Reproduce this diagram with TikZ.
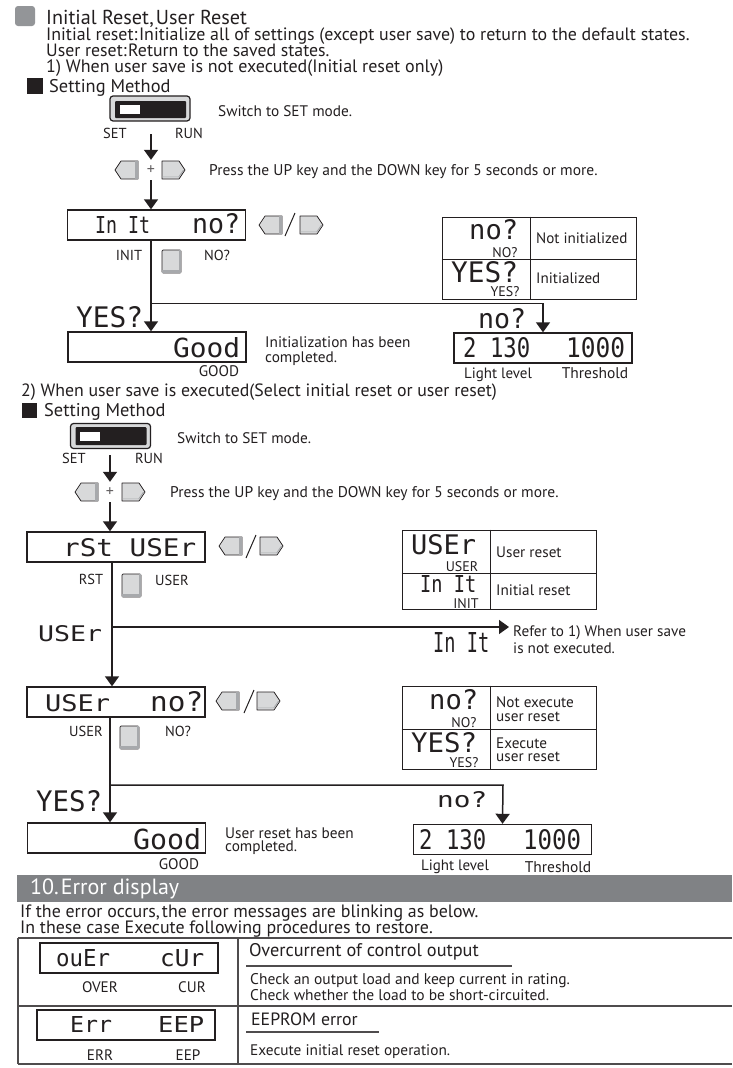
\documentclass[tikz,border=0pt]{standalone}
\usepackage{fontspec}
\usepackage{graphicx}
\setmainfont{PT Sans}
\newfontfamily\segf{DejaVu Sans Mono}
\usetikzlibrary{arrows.meta}
\definecolor{ink}{HTML}{231F20}
\definecolor{band}{HTML}{808285}
\definecolor{bull}{HTML}{939598}
\definecolor{keyf}{HTML}{D8D9DA}
\definecolor{keys}{HTML}{A7A9AC}
\tikzset{
 fz/.style={font=\fontsize{#1}{#1}\selectfont},
 tx/.style={inner sep=0pt,anchor=mid west,text=ink,yshift=-2.5pt},
 lb/.style={inner sep=0pt,anchor=mid,text=ink,yshift=-2.5pt},
 base/.style={inner sep=0pt,anchor=base west,text=ink},
 disp/.style={draw=ink,line width=1.4pt,fill=white,inner sep=0pt,minimum width=#1,minimum height=30pt},
 disp/.default=178pt,
 conn/.style={draw=ink,line width=1.5pt},
 arr/.style={conn,-{Triangle[width=14pt,length=10pt]}},
 tbl/.style={draw=ink,line width=.9pt},
 rule/.style={draw=ink!80,line width=1.1pt},
 swo/.style={draw=ink,line width=1.2pt,fill=keyf,rounded corners=3pt,inner sep=0pt,minimum width=80pt,minimum height=25pt},
 swi/.style={fill=ink,inner sep=0pt,rounded corners=1pt,minimum width=71pt,minimum height=17pt},
 swk/.style={fill=white,inner sep=0pt,minimum width=20pt,minimum height=9pt},
 plus/.style={inner sep=0pt,anchor=center,fz=16,text=ink!70,minimum height=20pt},
}
\newcommand{\seg}[6]{%
 \pgfmathsetmacro{\segw}{#3-#2}\pgfmathsetmacro{\segh}{#5-#4}%
 \node[inner sep=0pt,anchor=south west,text=ink] (#1) at (#2,#5) {\resizebox{\segw pt}{\segh pt}{\segf #6}};}
\newcommand{\keyL}[3]{% name, x0, y0
 \begin{scope}[shift={(#2,#3)}]
 \draw[ink,line width=.7pt,fill=keyf,line join=round] (0,9)--(6,0)--(23,0)--(23,18)--(6,18)--cycle;
 \fill[keys] (20,.4)--(22.6,.4)--(22.6,17.6)--(20,17.6)--cycle;
 \coordinate (#1) at (11.5,9);
 \end{scope}}
\newcommand{\keyR}[3]{%
 \begin{scope}[shift={(#2,#3)}]
 \draw[ink,line width=.7pt,fill=keyf,line join=round] (0,0)--(17,0)--(23,9)--(17,18)--(0,18)--cycle;
 \fill[keys] (.4,16)--(17,16)--(22.4,9)--(21,9)--(16.5,15.5)--(.4,15.5)--cycle;
 \coordinate (#1) at (11.5,9);
 \end{scope}}
\newcommand{\btn}[3]{%
 \begin{scope}[shift={(#2,#3)}]
 \draw[ink,line width=.7pt,fill=keyf,rounded corners=1pt] (0,0) rectangle (19,23);
 \fill[keys] (.4,20)--(18.6,20)--(18.6,22.6)--(.4,22.6)--cycle;
 \fill[keys] (17,.4) rectangle (18.6,22);
 \coordinate (#1) at (9.5,11.5);
 \end{scope}}
\begin{document}
\begin{tikzpicture}[x=1pt,y=-1pt]
\useasboundingbox (0,0) rectangle (732,1068);
\fill[white] (0,0) rectangle (732,1068);

% header
\fill[bull,rounded corners=3pt] (15,6) rectangle (35,26);
\node[base,fz=20.2] (h0) at (46,24) {Initial Reset,\hspace{2pt}User Reset};
\node[base,fz=17.9] (h1) at (46,40) {Initial reset:\hspace{1.5pt}Initialize all of settings (except user save) to return to the default states.};
\node[base,fz=17.8] (h2) at (46,56) {User reset:\hspace{1.5pt}Return to the saved states.};
\node[base,fz=18] (h3) at (46,72) {1) When user save is not executed(Initial reset only)};
\fill[ink] (27,78) rectangle (43,94);
\node[base,fz=18.4] (h4) at (49,92.5) {Setting Method};

% section 1
\node[swo] (sw1) at (150,108.5) {};
\node[swi] (sw1i) at (150.5,109.5) {};
\node[swk] (sw1k) at (130,109.5) {};
\node[lb,fz=14.5] (set1) at (115,133) {SET};
\node[lb,fz=14.5] (run1) at (189,133) {RUN};
\node[tx,fz=15.3] (t1) at (218,111) {Switch to SET mode.};
\coordinate (s1) at (151,134);
\node[plus] (pl1) at (151,170) {+};
\keyL{k1}{115}{161}\keyR{k2}{162}{161}
\node[tx,fz=15.5] (t2) at (209,170) {Press the UP key and the DOWN key for 5 seconds or more.};
\draw[arr] (s1) -- (pl1.north);
\node[disp] (d1) at (156.5,225) {};
\draw[arr] (pl1.south) -- (pl1.south |- d1.north);
\seg{d1a}{95}{150}{217}{234}{In It}
\seg{d1b}{192}{240}{214}{234}{no?}
\keyL{k3}{259}{216}\keyR{k4}{300}{216}
\draw[ink,line width=1pt] (295,213) -- (285,236);
\node[lb,fz=14.5] (init1) at (129,255) {INIT};
\node[lb,fz=14.5] (no1) at (217,255) {NO?};
\btn{b1}{162}{250}

\coordinate (j1) at (151,303.5);
\node[disp] (d2) at (157,347) {};
\draw[arr] (j1 |- d1.south) -- (j1 |- d2.north);
\coordinate (c1) at (543,303.5);
\node[disp] (d3) at (543,348) {};
\draw[arr] (j1) -- (c1) -- (d3.north);
\seg{y1}{76}{143}{307}{328}{YES?}
\seg{g1}{173}{240}{338}{358}{Good}
\node[tx,fz=15.3] (t3) at (265,342) {Initialization has been};
\node[tx,fz=15.3] (t4) at (265,357) {completed.};
\node[lb,fz=15.3] (good1) at (219,371) {GOOD};
\seg{n1}{478}{526}{309}{329}{no?}
\seg{d3a}{463}{530}{338}{358}{2 130}
\seg{d3b}{566}{625}{338}{358}{1000}
\node[lb,fz=15] (ll1) at (498,373) {Light level};
\node[lb,fz=15.5] (th1) at (595,373) {Threshold};

% table 1
\node[tbl,inner sep=0pt,minimum width=194pt,minimum height=82pt] (tb1) at (539,258) {};
\draw[tbl] (tb1.west |- 0,259) -- (tb1.east |- 0,259);
\draw[tbl] (530,0 |- tb1.north) -- (530,0 |- tb1.south);
\seg{n2}{469}{518}{220}{240}{no?}
\node[lb,fz=14] (no2) at (505,252) {NO?};
\node[tx,fz=15.1] (t5) at (536,238) {Not initialized};
\seg{y2}{451}{518}{262}{283}{YES?}
\node[lb,fz=14] (ys2) at (505,291) {YES?};
\node[tx,fz=15.1] (t6) at (536,278) {Initialized};

% section 2
\node[base,fz=17.8] (h5) at (21,396) {2) When user save is executed(Select initial reset or user reset)};
\fill[ink] (22,403) rectangle (37,418);
\node[base,fz=18.4] (h6) at (44,416) {Setting Method};
\node[swo] (sw2) at (110.5,436) {};
\node[swi,minimum height=18pt] (sw2i) at (111,436) {};
\node[swk] (sw2k) at (90,436.5) {};
\node[lb,fz=14.5] (set2) at (74,458) {SET};
\node[lb,fz=14.5] (run2) at (149,458) {RUN};
\node[tx,fz=15.3] (t7) at (177,438) {Switch to SET mode.};
\coordinate (s3) at (110,455);
\node[plus] (pl2) at (110,492) {+};
\draw[arr] (s3) -- (pl2.north);
\keyL{k5}{75}{483}\keyR{k6}{122}{483}
\node[tx,fz=15.5] (t8) at (170,492) {Press the UP key and the DOWN key for 5 seconds or more.};
\node[disp] (d4) at (116,547) {};
\draw[arr] (pl2.south) -- (pl2.south |- d4.north);
\seg{d4a}{63}{196}{539}{557}{rSt USEr}
\keyL{k7}{219}{537}\keyR{k8}{260}{537}
\draw[ink,line width=1pt] (256,535) -- (246,558);
\node[lb,fz=14.5] (rst) at (91,579) {RST};
\node[lb,fz=14.5] (usr1) at (172,580) {USER};
\btn{b2}{122}{574}
\coordinate (j2) at (112,627);
\coordinate (c2) at (509,627);
\draw[conn] (j2 |- d4.south) -- (j2);
\draw[arr] (j2) -- (c2);
\seg{u1}{38}{102}{626}{642}{USEr}
\seg{i1}{433}{489}{633}{653}{In It}
\node[tx,fz=15.2] (t9) at (513,631) {Refer to 1) When user save};
\node[tx,fz=15.2] (t10) at (513,648) {is not executed.};
\node[disp] (d5) at (116,702) {};
\draw[arr] (j2) -- (j2 |- d5.north);
\seg{d5a}{45}{110}{695}{712}{USEr}
\seg{d5b}{150}{203}{692}{712}{no?}
\keyL{k9}{216}{692}\keyR{k10}{257}{692}
\draw[ink,line width=1pt] (254,690) -- (244,713);
\node[lb,fz=14.5] (usr2) at (86,731) {USER};
\node[lb,fz=14.5] (no3) at (178,731) {NO?};
\btn{b3}{120}{726}
\coordinate (j3) at (110,785);
\coordinate (c3) at (503,785);
\node[disp] (d6) at (116.5,838) {};
\node[disp] (d7) at (502.5,839.5) {};
\draw[arr] (j3 |- d5.south) -- (j3 |- d6.north);
\draw[arr] (j3) -- (c3) -- (d7.north);
\seg{y3}{36}{102}{791}{812}{YES?}
\seg{g2}{133}{201}{829}{850}{Good}
\node[tx,fz=15.3] (t11) at (225,833) {User reset has been};
\node[tx,fz=15.3] (t12) at (225,846) {completed.};
\node[lb,fz=15.3] (good2) at (179,864) {GOOD};
\seg{n3}{437}{487}{792}{808}{no?}
\seg{d7a}{419}{486}{830}{850}{2 130}
\seg{d7b}{523}{581}{830}{850}{1000}
\node[lb,fz=15] (ll2) at (455,865) {Light level};
\node[lb,fz=15.5] (th2) at (558,867) {Threshold};

% table 2
\node[tbl,inner sep=0pt,minimum width=194pt,minimum height=79pt] (tb2) at (499,569.5) {};
\draw[tbl] (tb2.west |- 0,573) -- (tb2.east |- 0,573);
\draw[tbl] (490,0 |- tb2.north) -- (490,0 |- tb2.south);
\seg{u2}{411}{476}{535}{555}{USEr}
\node[lb,fz=14] (usr3) at (462,566) {USER};
\node[tx,fz=15.2] (t13) at (496,552) {User reset};
\seg{i2}{420}{476}{576}{593}{In It}
\node[lb,fz=14] (ini2) at (466,603) {INIT};
\node[tx,fz=15.2] (t14) at (496,590) {Initial reset};
% table 3
\node[tbl,inner sep=0pt,minimum width=194pt,minimum height=83pt] (tb3) at (499,727.5) {};
\draw[tbl] (tb3.west |- 0,729) -- (tb3.east |- 0,729);
\draw[tbl] (490,0 |- tb3.north) -- (490,0 |- tb3.south);
\seg{n4}{429}{478}{690}{710}{no?}
\node[lb,fz=14] (no4) at (464,722) {NO?};
\node[tx,fz=15.2] (t15) at (496,702) {Not execute};
\node[tx,fz=15.2] (t16) at (496,716) {user reset};
\seg{y4}{411}{477}{733}{753}{YES?}
\node[lb,fz=14] (ys4) at (464,762) {YES?};
\node[tx,fz=15.2] (t17) at (496,743) {Execute};
\node[tx,fz=15.2] (t18) at (496,756) {user reset};

% section 10
\fill[band] (17,875) rectangle (732,902);
\node[inner sep=0pt,anchor=mid west,text=white,fz=22,yshift=-3pt] (h7) at (30,888.5) {10.\hspace{2pt}Error display};
\node[base,fz=17.9] (h8) at (20,917) {If the error occurs,\hspace{2pt}the error messages are blinking as below.};
\node[base,fz=17.9] (h9) at (20,933) {In these case Execute following procedures to restore.};
\draw[rule] (18,938) -- (732,938);
\draw[rule] (18,1006) -- (732,1006);
\draw[rule] (18,1064) -- (732,1064);
\draw[rule] (18,938) -- (18,1064);
\draw[rule] (238,938) -- (238,1064);
\node[disp] (d8) at (129,958) {};
\seg{d8a}{56}{110}{950}{967}{ouEr}
\seg{d8b}{160}{204}{950}{967}{cUr}
\node[lb,fz=15.2] (ov) at (100,987) {OVER};
\node[lb,fz=15.2] (cu) at (192,987) {CUR};
\node[disp] (d9) at (126,1025) {};
\seg{d9a}{70}{112}{1017}{1033}{Err}
\seg{d9b}{158}{204}{1017}{1033}{EEP}
\node[lb,fz=15.2] (er) at (100,1055) {ERR};
\node[lb,fz=15.2] (ee) at (188,1055) {EEP};
\node[tx,fz=18.3] (t19) at (249,951) {Overcurrent of control output};
\draw[rule] (246,966) -- (512,966);
\node[tx,fz=15.5] (t20) at (250,979) {Check an output load and keep current in rating.};
\node[tx,fz=15.5] (t21) at (250,995) {Check whether the load to be short-circuited.};
\node[tx,fz=17.8] (t22) at (251,1020) {EEPROM error};
\draw[rule] (246,1032) -- (379,1032);
\node[tx,fz=15.3] (t23) at (250,1050) {Execute initial reset operation.};
\end{tikzpicture}
\end{document}
